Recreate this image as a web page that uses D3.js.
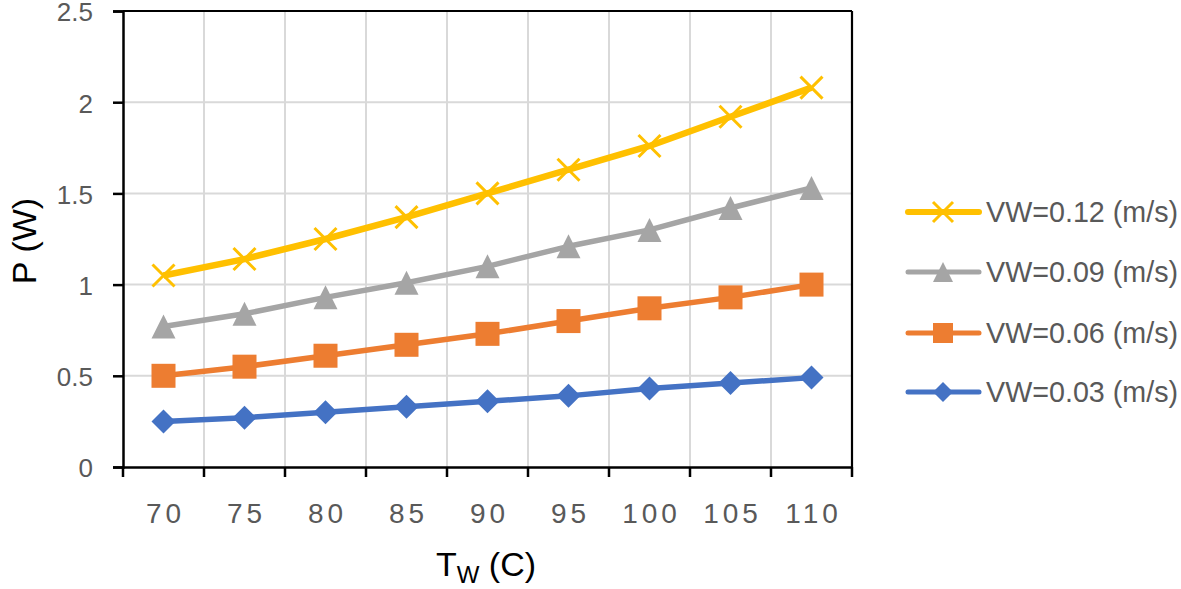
<!DOCTYPE html>
<html><head><meta charset="utf-8">
<script src="https://cdn.jsdelivr.net/npm/d3@7"></script>
<style>body{margin:0;background:#fff}svg{display:block}</style>
</head><body>
<svg id="c" width="1181" height="589"></svg>
<script>
const categories = [70, 75, 80, 85, 90, 95, 100, 105, 110];
const vw012 = [1.05, 1.14, 1.25, 1.37, 1.50, 1.63, 1.76, 1.92, 2.08];
const vw009 = [0.77, 0.84, 0.93, 1.01, 1.10, 1.21, 1.30, 1.42, 1.53];
const vw006 = [0.50, 0.55, 0.61, 0.67, 0.73, 0.80, 0.87, 0.93, 1.00];
const vw003 = [0.25, 0.27, 0.30, 0.33, 0.36, 0.39, 0.43, 0.46, 0.49];
const yTicks = [0, 0.5, 1, 1.5, 2, 2.5];
const seriesNames = ["VW=0.12 (m/s)", "VW=0.09 (m/s)", "VW=0.06 (m/s)", "VW=0.03 (m/s)"];

const series = [
  {name: seriesNames[3], values: vw003, color: "#4472C4", marker: "diamond"},
  {name: seriesNames[2], values: vw006, color: "#ED7D31", marker: "square"},
  {name: seriesNames[1], values: vw009, color: "#A5A5A5", marker: "triangle"},
  {name: seriesNames[0], values: vw012, color: "#FFC000", marker: "x"}
];

const svg = d3.select("#c");
const L = 123, R = 852, T = 11, B = 467;
const x = d3.scaleBand().domain(categories).range([L, R]).padding(0);
const y = d3.scaleLinear().domain([0, 2.5]).range([B, T]);
const font = "'Liberation Sans', Arial, sans-serif";

// gridlines
const g = svg.append("g");
g.selectAll(".hg").data(yTicks.filter(d => d > 0 && d < 2.5)).enter().append("line")
  .attr("x1", L).attr("x2", R).attr("y1", d => y(d)).attr("y2", d => y(d))
  .attr("stroke", "#D9D9D9").attr("stroke-width", 2);
const bounds = categories.map(c => x(c)).concat([R]);
g.selectAll(".vg").data(bounds.slice(1, -1)).enter().append("line")
  .attr("x1", d => d).attr("x2", d => d).attr("y1", T).attr("y2", B)
  .attr("stroke", "#D9D9D9").attr("stroke-width", 2);

// border top & right
svg.append("line").attr("x1", L).attr("x2", R).attr("y1", T).attr("y2", T).attr("stroke", "#000").attr("stroke-width", 2.2);
svg.append("line").attr("x1", R).attr("x2", R).attr("y1", T).attr("y2", B).attr("stroke", "#000").attr("stroke-width", 2.2);

// y axis
const yAxis = svg.append("g").attr("transform", `translate(${L},0)`)
  .call(d3.axisLeft(y).tickValues(yTicks).tickSize(10).tickPadding(20).tickFormat(d3.format("~g")));
yAxis.select(".domain").attr("stroke", "#000").attr("stroke-width", 2.5);
yAxis.selectAll(".tick line").attr("stroke", "#000").attr("stroke-width", 2.5);
yAxis.selectAll(".tick text").attr("fill", "#595959").attr("font-family", font).attr("font-size", 26)
  .attr("dy", "0.38em");

// x axis
const xAxis = svg.append("g").attr("transform", `translate(0,${B})`)
  .call(d3.axisBottom(x).tickSize(0).tickPadding(36));
xAxis.select(".domain").attr("stroke", "#000").attr("stroke-width", 2.5);
xAxis.selectAll(".tick text").attr("fill", "#595959").attr("font-family", font).attr("font-size", 28)
  .style("letter-spacing", "4px").attr("dx", 2);
svg.append("g").selectAll("line").data(bounds).enter().append("line")
  .attr("x1", d => d).attr("x2", d => d).attr("y1", B).attr("y2", B + 10)
  .attr("stroke", "#000").attr("stroke-width", 2.5);

// lines
const cx = c => x(c) + x.bandwidth() / 2;
const line = d3.line().x((d, i) => cx(categories[i])).y(d => y(d));
function drawMarker(sel, type, color, s) {
  if (type === "x") {
    sel.append("path").attr("d", `M${-s/2},${-s/2}L${s/2},${s/2}M${-s/2},${s/2}L${s/2},${-s/2}`)
      .attr("stroke", color).attr("stroke-width", 3).attr("fill", "none");
  } else if (type === "square") {
    sel.append("rect").attr("x", -s/2).attr("y", -s/2).attr("width", s).attr("height", s).attr("fill", color);
  } else if (type === "triangle") {
    sel.append("path").attr("d", `M0,${-s/2}L${s/2},${s/2}L${-s/2},${s/2}Z`).attr("fill", color);
  } else if (type === "diamond") {
    sel.append("path").attr("d", `M0,${-s/2}L${s/2},0L0,${s/2}L${-s/2},0Z`).attr("fill", color);
  }
}
series.forEach(s => {
  svg.append("path").datum(s.values).attr("d", line).attr("fill", "none")
    .attr("stroke", s.color).attr("stroke-width", s.marker === "x" ? 6.5 : 5.5).attr("stroke-linejoin", "round");
});
series.forEach(s => {
  s.values.forEach((v, i) => {
    const m = svg.append("g").attr("transform", `translate(${cx(categories[i])},${y(v)})`);
    drawMarker(m, s.marker, s.color, s.marker === "x" ? 22 : 24);
  });
});

// legend
const legY = [212, 272, 333, 392];
const legendOrder = [series[3], series[2], series[1], series[0]];
legendOrder.forEach((s, i) => {
  const lg = svg.append("g").attr("transform", `translate(0,${legY[i]})`);
  lg.append("line").attr("x1", 908).attr("x2", 979).attr("y1", 0).attr("y2", 0)
    .attr("stroke", s.color).attr("stroke-width", s.marker === "x" ? 6 : 5).attr("stroke-linecap", "round");
  const m = lg.append("g").attr("transform", "translate(943,0)");
  drawMarker(m, s.marker, s.color, 20);
  lg.append("text").attr("x", 986).attr("y", 10).attr("fill", "#595959")
    .attr("font-family", font).attr("font-size", 28.7).text(s.name);
});

// axis titles
svg.append("text").attr("transform", "translate(36,241) rotate(-90)").attr("text-anchor", "middle")
  .attr("font-family", font).attr("font-size", 34).attr("fill", "#000").text("P (W)");
const xt = svg.append("text").attr("x", 486).attr("y", 576).attr("text-anchor", "middle")
  .attr("font-family", font).attr("font-size", 34).attr("fill", "#000");
xt.append("tspan").text("T");
xt.append("tspan").attr("font-size", 24).attr("dy", 7).text("W");
xt.append("tspan").attr("dy", -7).text(" (C)");
</script>
</body></html>
